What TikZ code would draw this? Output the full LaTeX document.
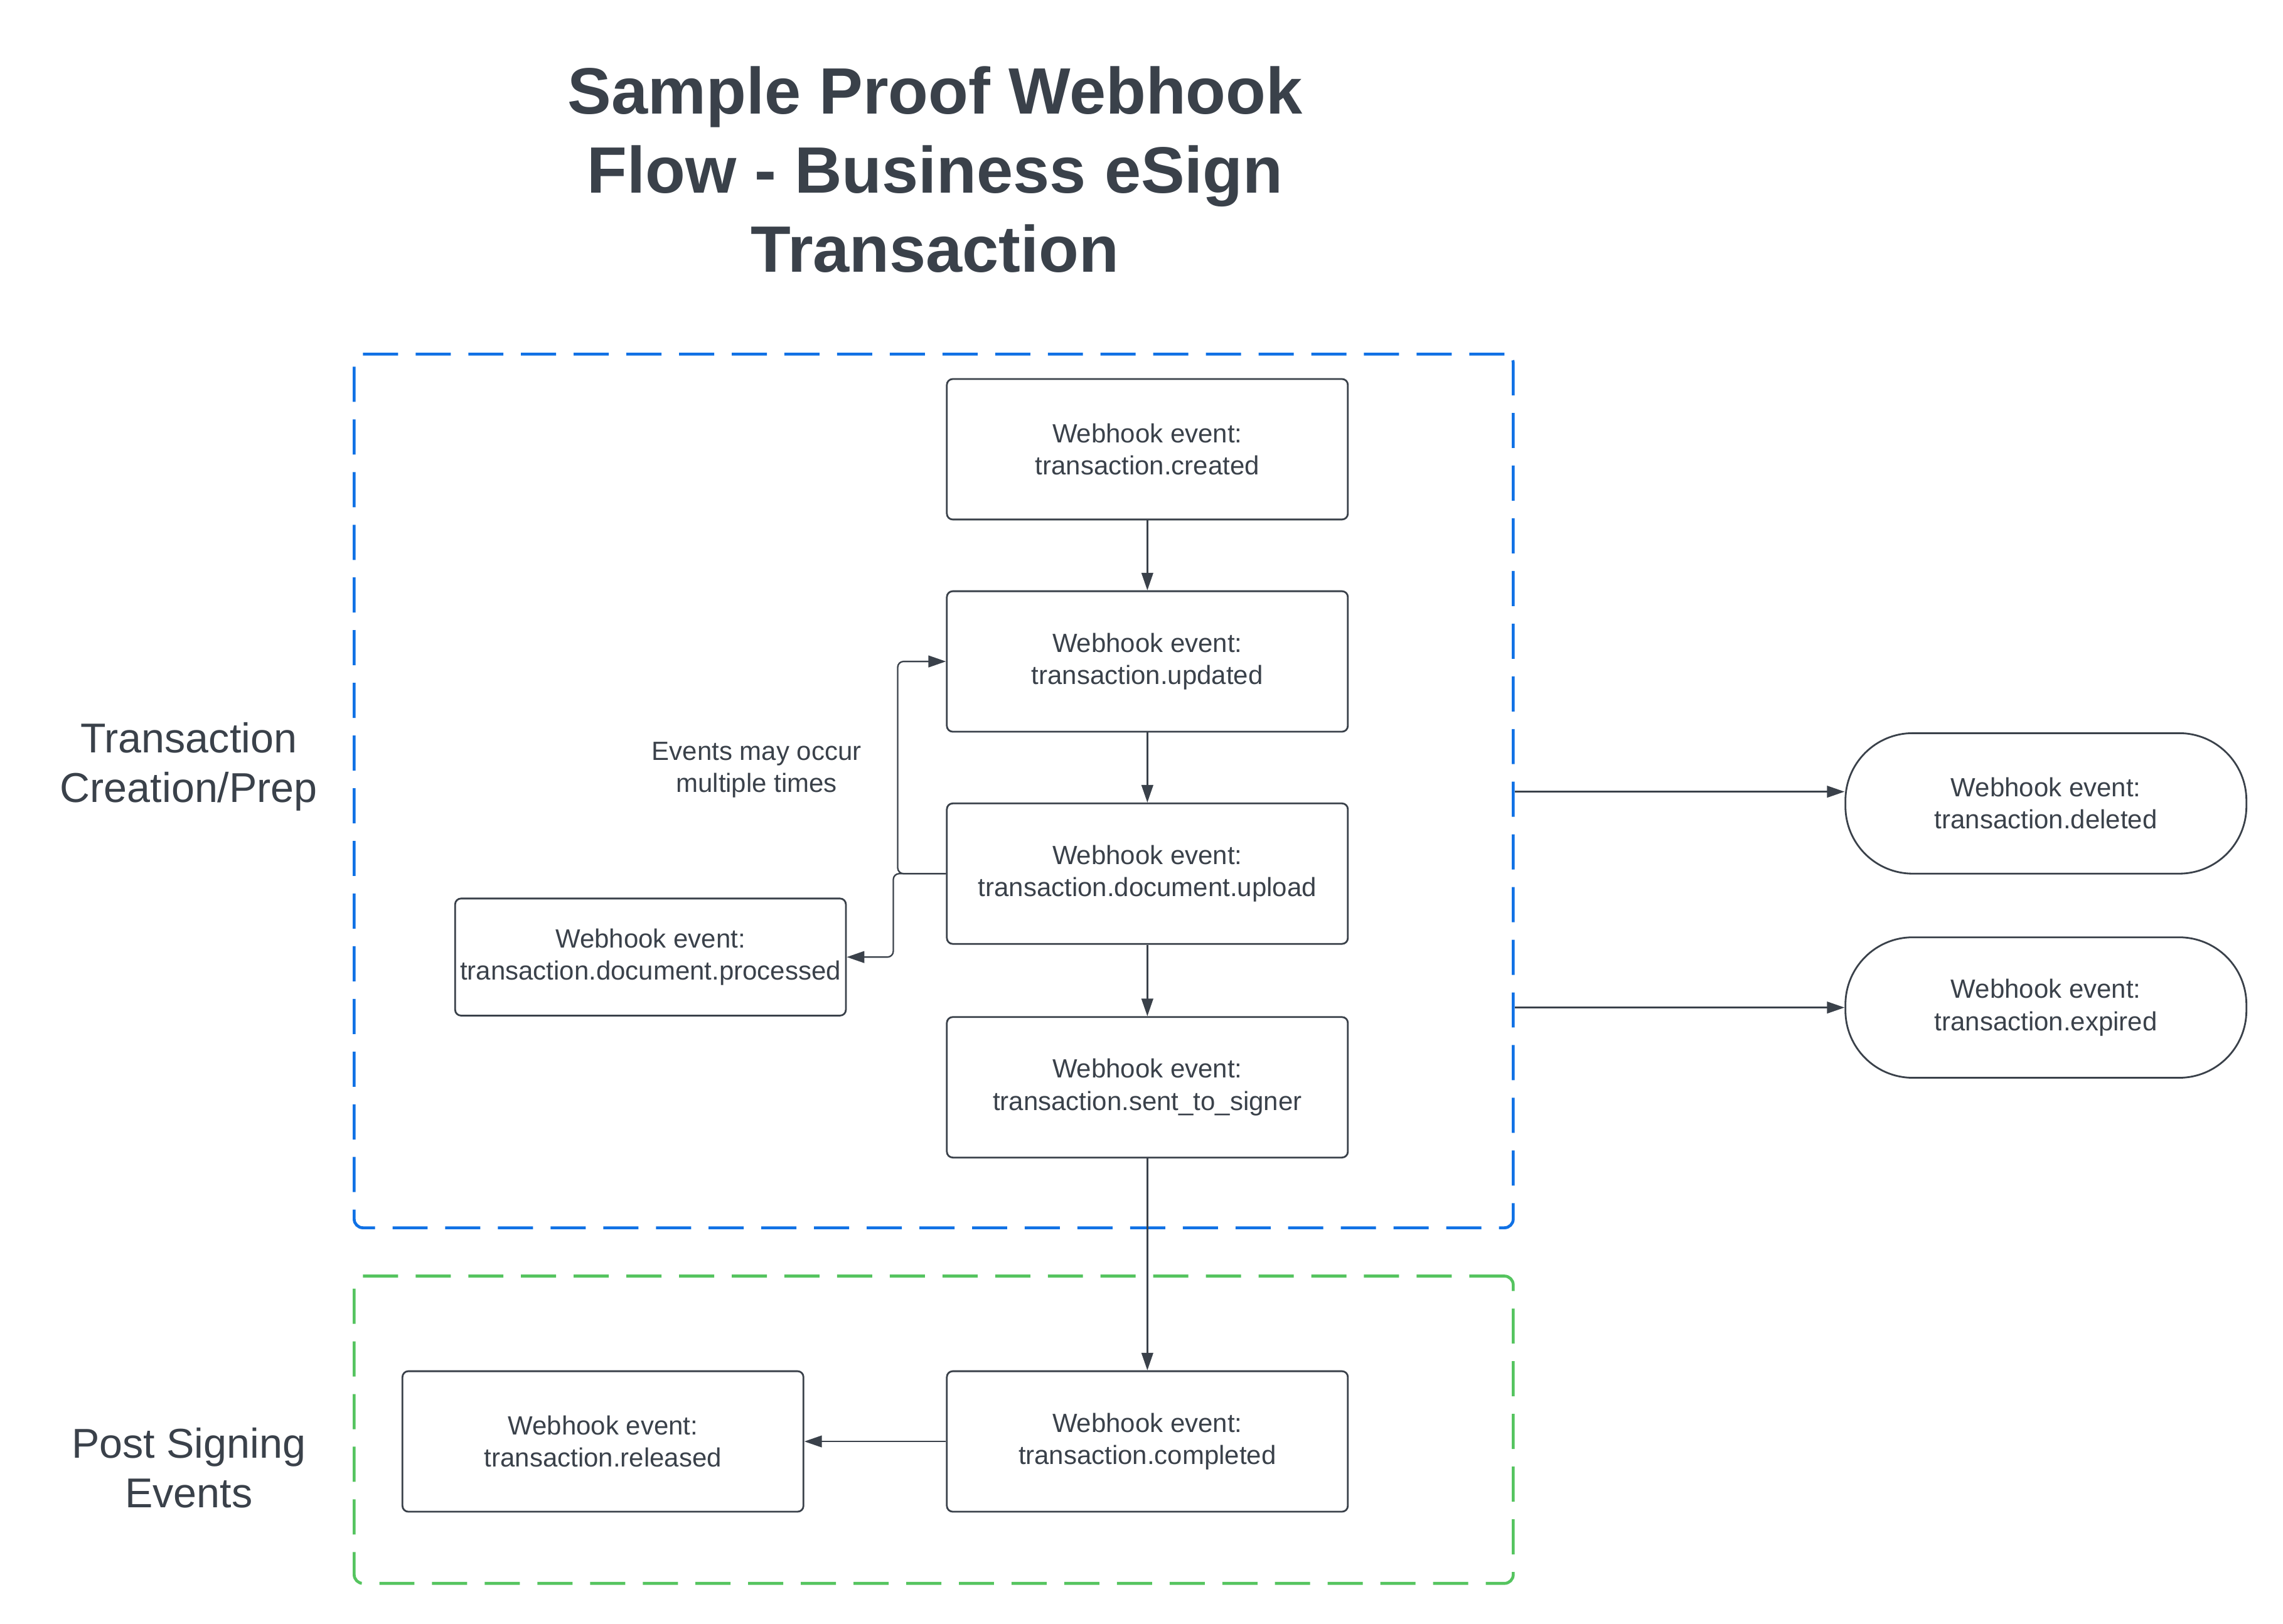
\documentclass[tikz,border=0pt]{standalone}
\usepackage{fontspec}
\setmainfont{Liberation Sans}
\usetikzlibrary{arrows.meta}
\definecolor{ink}{HTML}{3A414A}
\definecolor{lucidblue}{HTML}{1071E5}
\definecolor{lucidgreen}{HTML}{55C45F}
\tikzset{
	eventbox/.style={draw=ink, line width=0.6pt, rounded corners=2pt, minimum width=137pt, minimum height=48pt, inner sep=0pt, align=center, text=ink, font=\fontsize{9}{11}\selectfont},
	pillbox/.style={eventbox, rounded corners=23pt},
	arr/.style={draw=ink, line width=0.5pt, -{Triangle[length=6pt,width=4pt]}},
	regionbox/.style={draw=#1, line width=1pt, dash pattern=on 12pt off 6pt, rounded corners=3pt, minimum width=396pt, inner sep=0pt},
	sidelabel/.style={align=center, text=ink, font=\fontsize{14.25}{17}\selectfont}
}
\begin{document}
\begin{tikzpicture}[x=0.5pt, y=-0.5pt]
		%%%%% START %%%%%
		\useasboundingbox (0, 0) rectangle (1560, 1109.75);
		
		\node[align=center, text=ink, font=\bfseries\fontsize{22.4}{27}\selectfont] (title) at (639, 116) {Sample Proof Webhook\\Flow - Business eSign\\Transaction};
		
		% regions
		\node[regionbox=lucidblue, minimum height=298.5pt] (prep) at (638, 540.5) {};
		\node[regionbox=lucidgreen, minimum height=105pt] (post) at (638, 977) {};
		\node[sidelabel] (preplabel) at (129, 524) {Transaction\\Creation/Prep};
		\node[sidelabel] (postlabel) at (129, 1003) {Post Signing\\Events};
		
		% events
		\node[eventbox] (created) at (784, 307) {Webhook event:\\transaction.created};
		\node[eventbox] (updated) at (784, 452) {Webhook event:\\transaction.updated};
		\node[eventbox] (upload) at (784, 597) {Webhook event:\\transaction.document.upload};
		\node[eventbox] (sent) at (784, 743) {Webhook event:\\transaction.sent\_to\_signer};
		\node[eventbox, minimum width=133.5pt, minimum height=40pt] (processed) at (444.5, 654) {Webhook event:\\transaction.document.processed};
		\node[eventbox] (completed) at (784, 985) {Webhook event:\\transaction.completed};
		\node[eventbox] (released) at (412, 985) {Webhook event:\\transaction.released};
		\node[pillbox] (deleted) at (1398, 549) {Webhook event:\\transaction.deleted};
		\node[pillbox] (expired) at (1398, 688.5) {Webhook event:\\transaction.expired};
		
		\node[align=center, text=ink, font=\fontsize{9}{11}\selectfont] (repeatnote) at (517, 526) {Events may occur\\multiple times};
		
		% connectors
		\draw[arr] (created) -- (updated);
		\draw[arr] (updated) -- (upload);
		\draw[arr] (upload) -- (sent);
		\draw[arr] (sent) -- (completed);
		\draw[arr] (completed) -- (released);
		\draw[arr, rounded corners=2pt] (upload.west) -- ++(-33, 0) |- (updated.west);
		\draw[arr, rounded corners=2pt] (upload.west) -- ++(-36, 0) |- (processed.east);
		
		\coordinate (delfrom) at (prep.east |- 0, 541);
		\draw[arr] (delfrom) -- (delfrom -| deleted.west);
		\draw[arr] (prep.east |- expired) -- (expired);
		
		%%%%% END %%%%%
	\end{tikzpicture}
\end{document}
